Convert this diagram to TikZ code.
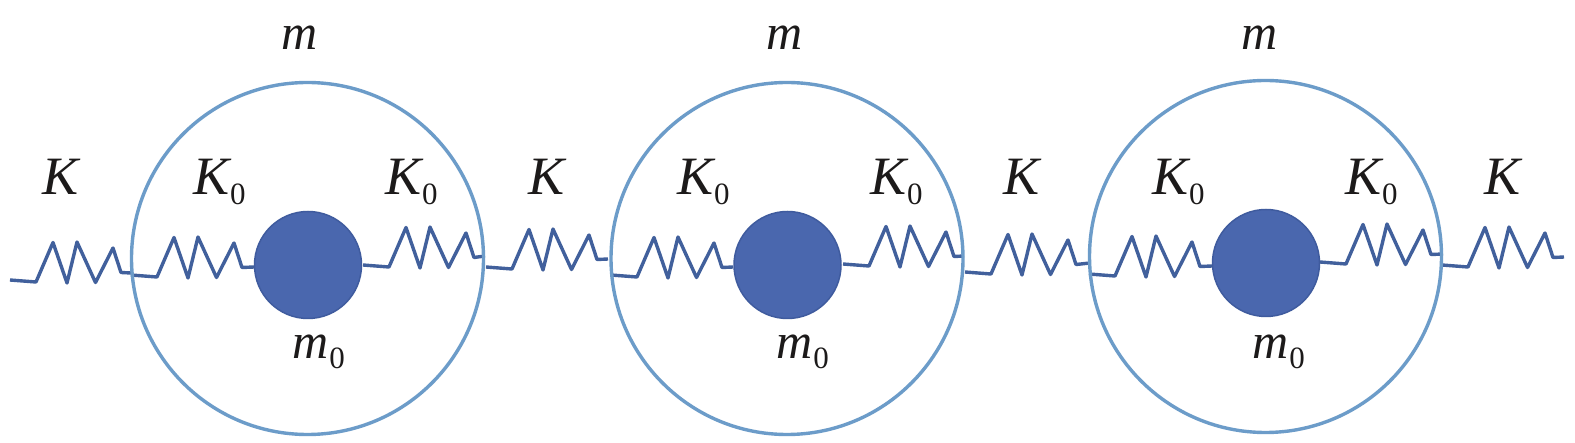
\documentclass[tikz,border=0pt]{standalone}
\usepackage{fontspec}
\setmainfont{Liberation Serif}
\definecolor{ringblue}{HTML}{6C9CC9}
\definecolor{springblue}{HTML}{41609C}
\definecolor{massfill}{HTML}{4A67AE}
\definecolor{massedge}{HTML}{3F5B9E}
\definecolor{inktext}{HTML}{1C1A1A}
\tikzset{
  ring/.style={circle,draw=ringblue,line width=3.4pt,minimum size=352pt,inner sep=0pt},
  mass/.style={circle,fill=massfill,draw=massedge,line width=1.5pt,minimum size=107pt,inner sep=0pt},
  spring/.style={draw=springblue,line width=3.4pt,line join=round},
  lab/.style={anchor=base west,inner sep=0pt,text=inktext,font=\fontsize{50}{50}\selectfont\itshape},
  kay/.style={lab,font=\fontsize{54}{54}\selectfont\itshape}
}
\newcommand{\subz}{\hspace{1pt}\raisebox{-10pt}{\fontsize{31}{31}\selectfont\upshape 0}}
\newcommand{\coil}[2]{\draw[spring] (#1) -- ++(26,2) -- ++(17,-39.5) -- ++(14,40.5) -- ++(10,-41) -- ++(18.5,40.5) -- ++(17.5,-34.5) -- ++(8,24.5) -- (#2);}
\begin{document}
\begin{tikzpicture}[x=1pt,y=-1pt]
\useasboundingbox (0,0) rectangle (1575,443);
\fill[white] (0,0) rectangle (1575,443);
% free ends of the springs
\coordinate (a0) at (10,280);   \coordinate (a1) at (131,273);
\coordinate (b0) at (131,275);  \coordinate (b1) at (254,267);
\coordinate (c0) at (363,265);  \coordinate (c1) at (485,256);
\coordinate (d0) at (486,267);  \coordinate (d1) at (608,259);
\coordinate (e0) at (611,275);  \coordinate (e1) at (733,267);
\coordinate (f0) at (843,264);  \coordinate (f1) at (964,256);
\coordinate (g0) at (965,272);  \coordinate (g1) at (1090,263);
\coordinate (h0) at (1089,274); \coordinate (h1) at (1212,266);
\coordinate (i0) at (1320,262); \coordinate (i1) at (1443,254);
\coordinate (j0) at (1442,265); \coordinate (j1) at (1564,257);
\coil{a0}{a1}\coil{b0}{b1}\coil{c0}{c1}\coil{d0}{d1}\coil{e0}{e1}
\coil{f0}{f1}\coil{g0}{g1}\coil{h0}{h1}\coil{i0}{i1}\coil{j0}{j1}
% rings and masses
\node[ring] (ring1) at (307.5,258.5) {};
\node[ring] (ring2) at (787,258.5) {};
\node[ring] (ring3) at (1265.5,256.5) {};
\node[mass] (mass1) at (308,265) {};
\node[mass] (mass2) at (787.5,265) {};
\node[mass] (mass3) at (1266,263) {};
% labels
\node[lab] (m1) at (281,50) {m};
\node[lab] (m2) at (766,50) {m};
\node[lab] (m3) at (1241,50) {m};
\node[lab] (n1) at (292,359) {m\subz};
\node[lab] (n2) at (776,359) {m\subz};
\node[lab] (n3) at (1252,359) {m\subz};
\node[kay] (k1) at (42,195) {K};
\node[kay] (k2) at (528,195) {K};
\node[kay] (k3) at (1003,195) {K};
\node[kay] (k4) at (1484,195) {K};
\node[kay] (p1) at (193,195) {K\subz};
\node[kay] (p2) at (385,195) {K\subz};
\node[kay] (p3) at (677,195) {K\subz};
\node[kay] (p4) at (870,195) {K\subz};
\node[kay] (p5) at (1152,195) {K\subz};
\node[kay] (p6) at (1345,195) {K\subz};
\end{tikzpicture}
\end{document}
